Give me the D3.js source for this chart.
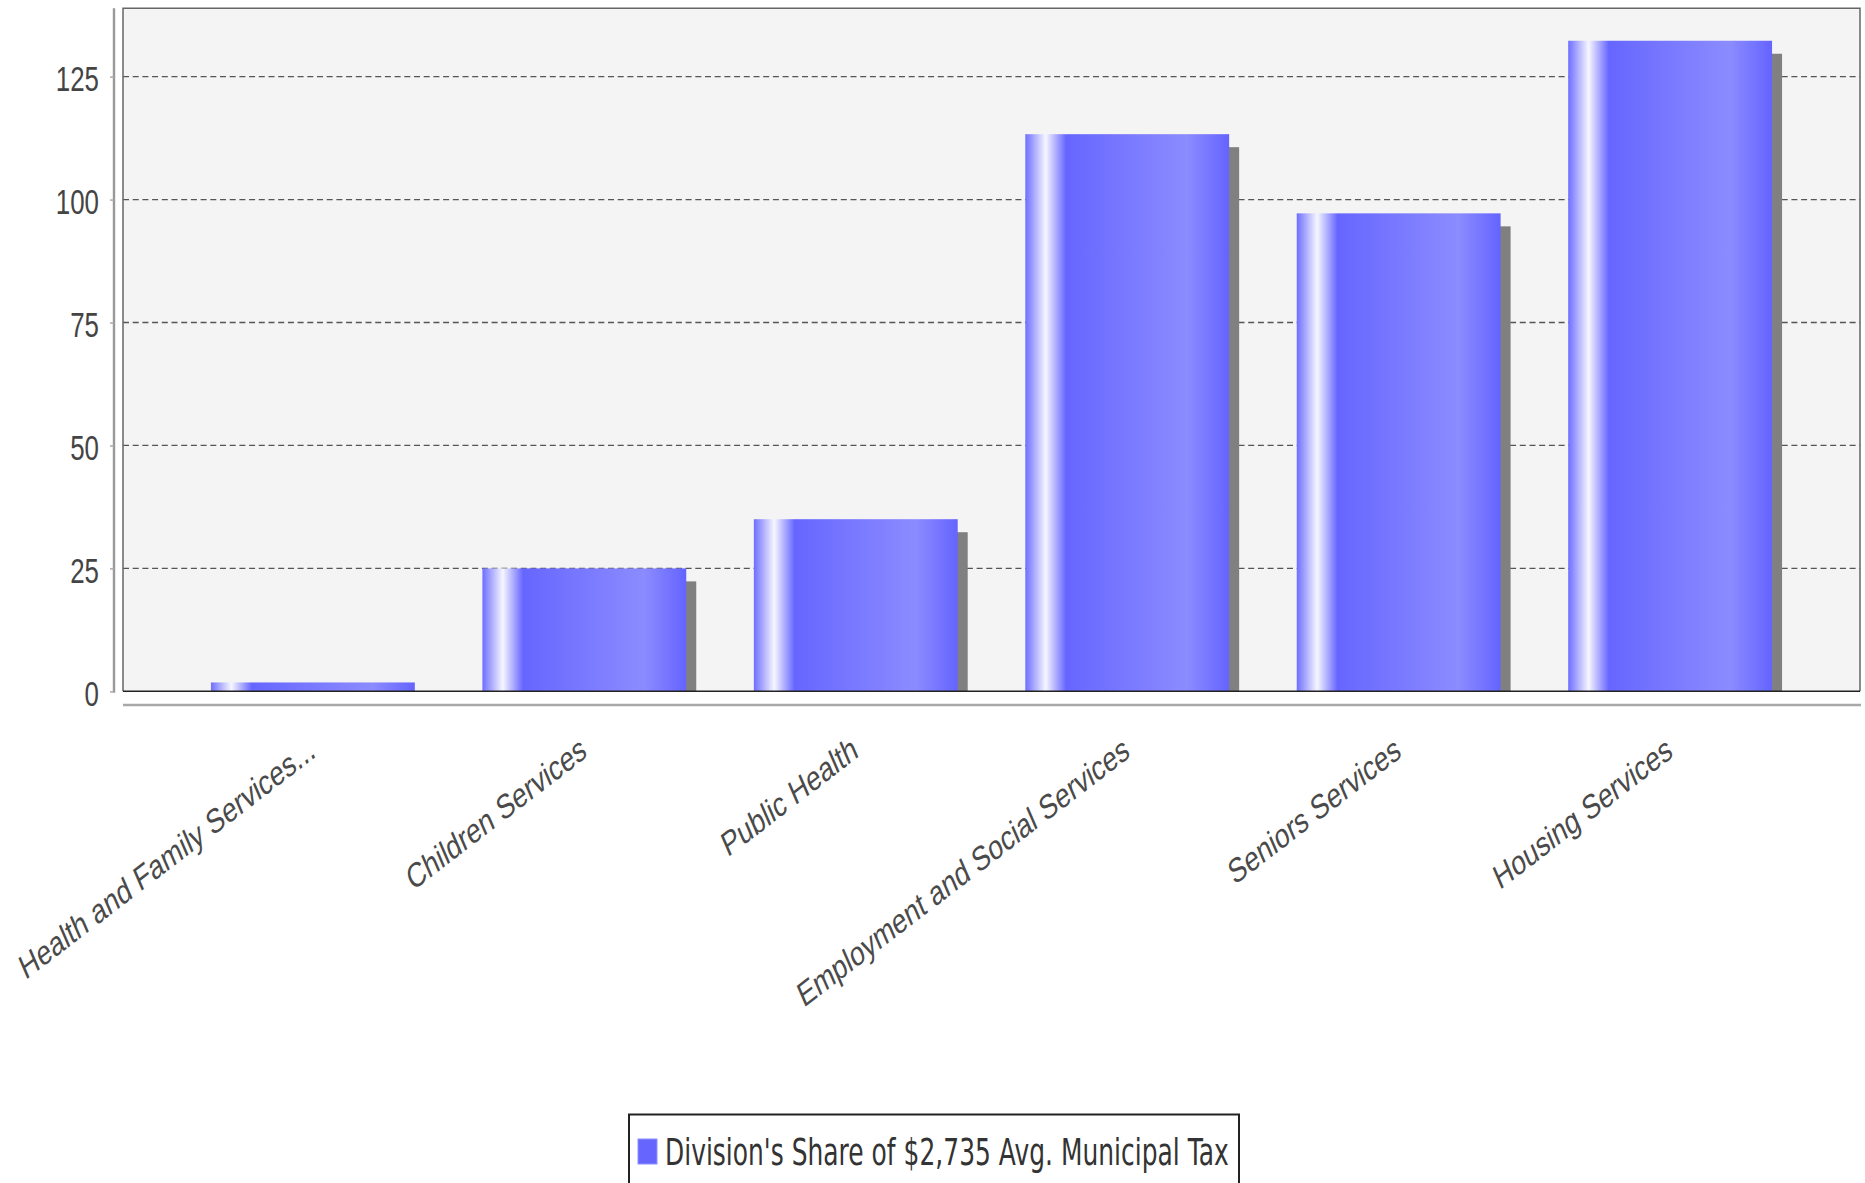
<!DOCTYPE html>
<html>
<head>
<meta charset="utf-8">
<script src="https://cdn.jsdelivr.net/npm/d3@7"></script>
<style>
  html, body { margin: 0; padding: 0; background: #ffffff; }
  svg { display: block; }
</style>
</head>
<body>
<svg id="chart" width="1865" height="1183"></svg>
<script>
// ---- data ----
const categories = [
  "Health and Family Services...",
  "Children Services",
  "Public Health",
  "Employment and Social Services",
  "Seniors Services",
  "Housing Services"
];
const values = [1.8, 25, 35, 113.3, 97.2, 132.3];
const yTicks = [0, 25, 50, 75, 100, 125];
const seriesName = "Division's Share of $2,735 Avg. Municipal Tax";

// ---- layout ----
const plot = { left: 123, right: 1860, top: 8.3, bottom: 691.3 };
const yMax = 138.9;
const sx = 0.75;              // horizontal squeeze of the source image
const barColor = "#6666ff";

const svg = d3.select("#chart");

const x = d3.scaleBand()
  .domain(categories)
  .range([plot.left, plot.right])
  .paddingInner(0.249)
  .paddingOuter(0.324);

const y = d3.scaleLinear()
  .domain([0, yMax])
  .range([plot.bottom, plot.top]);

// gradient for bars
const defs = svg.append("defs");
const grad = defs.append("linearGradient")
  .attr("id", "barGrad").attr("x1", "0%").attr("x2", "100%").attr("y1", "0%").attr("y2", "0%");
[
  [0, "#6e6eff"], [0.10, "#f6f6ff"], [0.20, "#6666ff"],
  [0.80, "#8c8cff"], [0.80, "#8a8aff"], [1, "#6464ff"]
].forEach(([o, c]) => grad.append("stop").attr("offset", o).attr("stop-color", c));

defs.append("clipPath").attr("id", "plotClip")
  .append("rect")
  .attr("x", plot.left).attr("y", plot.top)
  .attr("width", plot.right - plot.left).attr("height", plot.bottom - plot.top);

// plot background
svg.append("rect")
  .attr("x", plot.left).attr("y", plot.top)
  .attr("width", plot.right - plot.left).attr("height", plot.bottom - plot.top)
  .attr("fill", "#f4f4f4");

// gridlines
svg.append("g")
  .selectAll("line")
  .data(yTicks.filter(d => d > 0))
  .join("line")
  .attr("x1", plot.left).attr("x2", plot.right)
  .attr("y1", d => y(d)).attr("y2", d => y(d))
  .attr("stroke", "#555")
  .attr("stroke-width", 1.3)
  .attr("stroke-dasharray", "6,3.7");

// shadows
const gPlot = svg.append("g").attr("clip-path", "url(#plotClip)");
gPlot.selectAll("rect.shadow")
  .data(values)
  .join("rect")
  .attr("class", "shadow")
  .attr("x", (d, i) => x(categories[i]) + 10)
  .attr("y", d => y(d) + 13)
  .attr("width", x.bandwidth())
  .attr("height", d => Math.max(0, plot.bottom - (y(d) + 13)))
  .attr("fill", "#808080");

// bars
gPlot.selectAll("rect.bar")
  .data(values)
  .join("rect")
  .attr("class", "bar")
  .attr("x", (d, i) => x(categories[i]))
  .attr("y", d => y(d))
  .attr("width", x.bandwidth())
  .attr("height", d => plot.bottom - y(d))
  .attr("fill", "url(#barGrad)");

// plot border (top/left/right) and zero line
svg.append("path")
  .attr("d", `M${plot.left},${plot.bottom}V${plot.top}H${plot.right}V${plot.bottom}`)
  .attr("fill", "none").attr("stroke", "#666").attr("stroke-width", 1.5);
svg.append("line")
  .attr("x1", plot.left).attr("x2", plot.right)
  .attr("y1", y(0)).attr("y2", y(0))
  .attr("stroke", "#222").attr("stroke-width", 1.6);

// y axis (offset to the left)
const yAxisX = 114;
const yAxis = d3.axisLeft(y).tickValues(yTicks).tickSize(4).tickPadding(11).tickSizeOuter(0);
const gy = svg.append("g").attr("transform", `translate(${yAxisX},0)`).call(yAxis);
gy.select(".domain").attr("stroke", "#999").attr("stroke-width", 2.4)
  .attr("d", `M0,${plot.top}V${plot.bottom + 1.5}`);
gy.selectAll(".tick line").attr("stroke", "#aaa").attr("stroke-width", 1.5);
gy.selectAll(".tick text")
  .attr("fill", "#444")
  .attr("font-family", "'Liberation Sans', Arial, sans-serif")
  .attr("font-size", 34.5)
  .attr("dy", "0.4em")
  .each(function () {
    const t = d3.select(this);
    const xx = +t.attr("x");
    t.attr("x", null)
     .attr("transform", `translate(${xx},0) scale(${sx},1)`);
  });

// category axis line (offset below)
svg.append("line")
  .attr("x1", plot.left).attr("x2", plot.right + 1)
  .attr("y1", 705).attr("y2", 705)
  .attr("stroke", "#a8a8a8").attr("stroke-width", 2.6);

// category labels (rotated)
svg.append("g")
  .selectAll("text")
  .data(categories)
  .join("text")
  .attr("transform", d => `translate(${x(d) + x.bandwidth() / 2 + 4},756) scale(${sx},1) rotate(-30)`)
  .attr("text-anchor", "end")
  .attr("font-family", "'Liberation Sans', Arial, sans-serif")
  .attr("font-size", 34.5)
  .attr("fill", "#4a4a4a")
  .text(d => d);

// legend
const lg = svg.append("g");
lg.append("rect")
  .attr("x", 629).attr("y", 1114.5)
  .attr("width", 610).attr("height", 100)
  .attr("fill", "#fff").attr("stroke", "#222").attr("stroke-width", 2);
lg.append("rect")
  .attr("x", 638).attr("y", 1139)
  .attr("width", 19).attr("height", 25)
  .attr("fill", barColor).attr("stroke", "#9090ff").attr("stroke-width", 1);
const lt = lg.append("text")
  .attr("font-family", "'DejaVu Sans', Tahoma, sans-serif")
  .attr("font-size", 37.5)
  .attr("fill", "#333")
  .text(seriesName);
const len = lt.node().getComputedTextLength();
const lsx = 564 / len;
lt.attr("transform", `translate(665,1165) scale(${lsx},1)`);
</script>
</body>
</html>
